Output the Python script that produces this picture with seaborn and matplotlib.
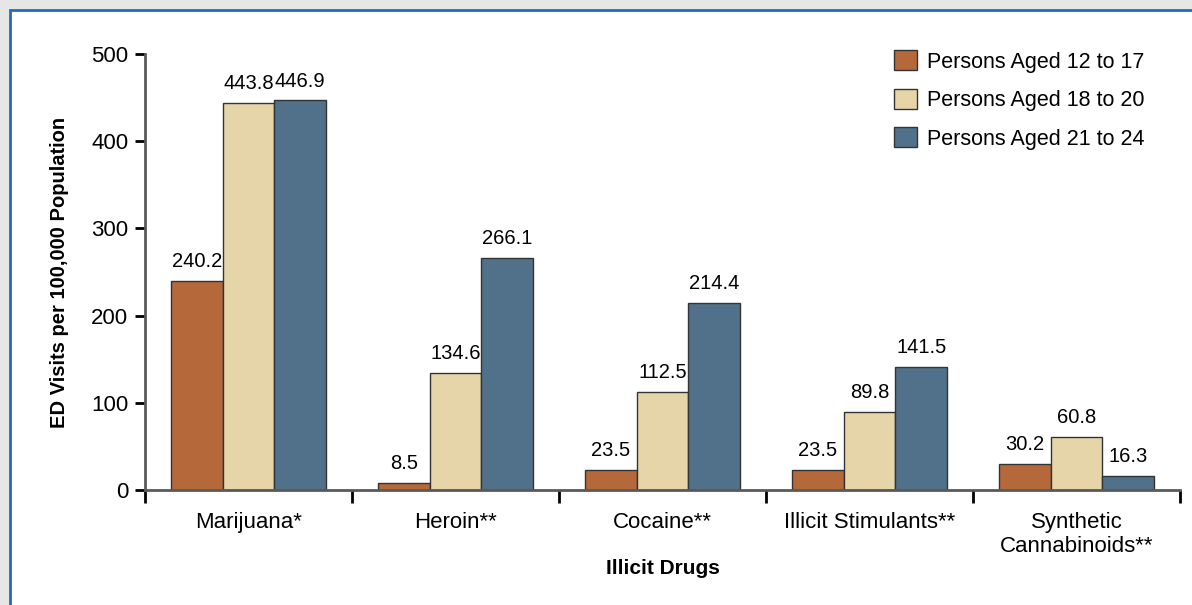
import matplotlib.pyplot as plt
import matplotlib
import numpy as np
import pandas as pd
import seaborn as sns
from matplotlib.patches import Rectangle

drugs = ['Marijuana*', 'Heroin**', 'Cocaine**', 'Illicit Stimulants**', 'Synthetic\nCannabinoids**']
groups = ['Persons Aged 12 to 17', 'Persons Aged 18 to 20', 'Persons Aged 21 to 24']
age_12_17 = [240.2, 8.5, 23.5, 23.5, 30.2]
age_18_20 = [443.8, 134.6, 112.5, 89.8, 60.8]
age_21_24 = [446.9, 266.1, 214.4, 141.5, 16.3]
colors = ['#b5693a', '#e5d5a8', '#517089']

df = pd.DataFrame({
    'drug': drugs * 3,
    'group': [groups[0]] * 5 + [groups[1]] * 5 + [groups[2]] * 5,
    'rate': age_12_17 + age_18_20 + age_21_24,
})

sns.set_style('white')
matplotlib.rcParams['font.family'] = ['Liberation Sans', 'DejaVu Sans']
matplotlib.rcParams['text.color'] = 'black'
matplotlib.rcParams['axes.labelcolor'] = 'black'
matplotlib.rcParams['xtick.color'] = 'black'
matplotlib.rcParams['ytick.color'] = 'black'

fig = plt.figure(figsize=(11.92, 6.05), dpi=100)
fig.patch.set_facecolor('#e6e6e6')
# white panel with blue border
fig.patches.append(Rectangle((10 / 1192, -0.01), 1.02, 1 - 10 / 605 + 0.01,
                             transform=fig.transFigure, facecolor='white',
                             edgecolor='#1f6fb8', linewidth=2, zorder=-5))

ax = fig.add_axes([145 / 1192, 1 - 490 / 605, (1180 - 145) / 1192, (490 - 54) / 605])
sns.barplot(data=df, x='drug', y='rate', hue='group', palette=colors,
            width=0.75, gap=0, edgecolor='#333333', linewidth=1, ax=ax, saturation=1)

for cont in ax.containers:
    ax.bar_label(cont, labels=[f'{v:.1f}' for v in cont.datavalues], padding=7, fontsize=14.5)

ax.set_ylim(0, 500)
ax.set_xlim(-0.5, 4.5)
ax.set_yticks([0, 100, 200, 300, 400, 500])
ax.tick_params(axis='y', labelsize=16, length=7, width=2, direction='out', left=True, pad=5)
ax.tick_params(axis='x', which='major', length=0, labelsize=16, pad=16)
ax.set_xticks(np.arange(-0.5, 5, 1), minor=True)
ax.tick_params(axis='x', which='minor', length=9, width=2, direction='out', bottom=True)
ax.set_facecolor('none')

for s in ['top', 'right']:
    ax.spines[s].set_visible(False)
ax.spines['left'].set_color('#5a5a5a')
ax.spines['left'].set_linewidth(2)
ax.spines['bottom'].set_color('#5a5a5a')
ax.spines['bottom'].set_linewidth(2)

ax.set_ylabel('ED Visits per 100,000 Population', fontsize=14.5, fontweight='bold', labelpad=16)
ax.set_xlabel('Illicit Drugs', fontsize=15, fontweight='bold', labelpad=1)

leg = ax.legend(loc='upper right', bbox_to_anchor=(0.984, 1.053), frameon=False, fontsize=15.5,
                handlelength=1.05, handleheight=1.05, handletextpad=0.45, labelspacing=0.75)
for h in leg.legend_handles:
    h.set_edgecolor('#333333')

fig.savefig('out.png', dpi=100, facecolor=fig.get_facecolor())
